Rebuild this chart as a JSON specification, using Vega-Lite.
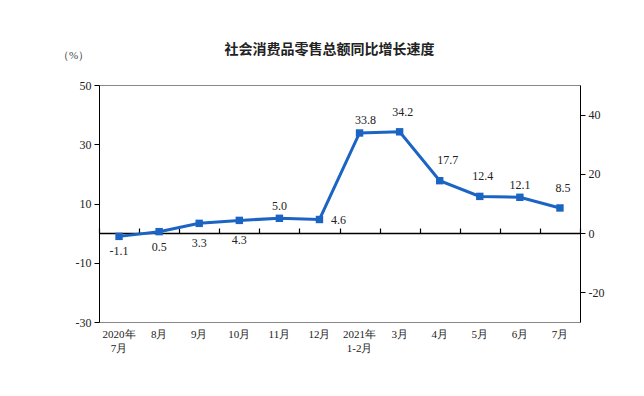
{
  "$schema": "https://vega.github.io/schema/vega-lite/v6.json",
  "width": 481,
  "height": 237,
  "autosize": "none",
  "padding": {"left": 99, "top": 85, "right": 64, "bottom": 74},
  "background": "white",
  "config": {
    "locale": {"number": {"decimal": ".", "thousands": ",", "grouping": [3], "currency": ["", ""], "minus": "-"}},
    "view": {"stroke": "#888888", "strokeWidth": 1},
    "font": "Liberation Serif",
    "text": {"font": "Liberation Serif", "fontSize": 12, "color": "#222222"}
  },
  "title": {
    "text": "社会消费品零售总额同比增长速度",
    "font": "Noto Sans CJK SC",
    "fontSize": 14,
    "fontWeight": "bold",
    "color": "#222222",
    "anchor": "middle",
    "dx": -10,
    "offset": -8
  },
  "data": {
    "values": [
      {"m": "2020年|7月", "v": -1.1},
      {"m": "8月", "v": 0.5},
      {"m": "9月", "v": 3.3},
      {"m": "10月", "v": 4.3},
      {"m": "11月", "v": 5.0},
      {"m": "12月", "v": 4.6},
      {"m": "2021年|1-2月", "v": 33.8},
      {"m": "3月", "v": 34.2},
      {"m": "4月", "v": 17.7},
      {"m": "5月", "v": 12.4},
      {"m": "6月", "v": 12.1},
      {"m": "7月", "v": 8.5}
    ]
  },
  "resolve": {"axis": {"x": "independent", "y": "independent"}},
  "layer": [
    {
      "mark": {"type": "line", "color": "#1b64c4", "strokeWidth": 3,
        "point": {"shape": "square", "size": 55, "filled": true, "color": "#1b64c4"}},
      "encoding": {
        "x": {"field": "m", "type": "nominal", "sort": null,
          "scale": {"paddingInner": 0, "paddingOuter": 0},
          "axis": {"title": null, "labelAngle": 0, "ticks": false, "domain": false,
            "labelExpr": "split(datum.label, '|')",
            "labelFont": "Liberation Serif", "labelFontSize": 11, "labelColor": "#222222",
            "labelPadding": 6, "labelLineHeight": 14, "labelBaseline": "top"}},
        "y": {"field": "v", "type": "quantitative",
          "scale": {"domain": [-30, 50], "nice": false, "zero": false},
          "axis": {"values": [-30, -10, 10, 30, 50], "grid": false,
            "labelOverlap": false, "labelBound": false, "labelFlush": false,
            "domainColor": "#000000", "tickColor": "#000000", "tickSize": 5,
            "labelFont": "Liberation Serif", "labelFontSize": 12, "labelColor": "#222222",
            "labelPadding": 3,
            "title": "（%）", "titleAngle": 0, "titleX": -26, "titleY": -30,
            "titleAlign": "center", "titleBaseline": "middle",
            "titleFont": "Liberation Serif", "titleFontSize": 11, "titleFontWeight": "normal",
            "titleColor": "#444444"}}
      }
    },
    {
      "mark": {"type": "rule", "opacity": 0},
      "encoding": {
        "x": {"field": "m", "type": "nominal", "sort": null,
          "axis": {"orient": "top", "offset": -148, "title": null, "labels": false,
            "tickBand": "extent", "tickSize": 5, "tickColor": "#000000",
            "domainColor": "#000000", "domainWidth": 1.5, "tickWidth": 1.2}},
        "y": {"field": "v", "type": "quantitative",
          "axis": {"values": [-20, 0, 20, 40], "grid": false, "title": null,
            "labelOverlap": false, "labelBound": false, "labelFlush": false,
            "domainColor": "#000000", "tickColor": "#000000", "tickSize": 5,
            "labelFont": "Liberation Serif", "labelFontSize": 12, "labelColor": "#222222",
            "labelPadding": 3}}
      }
    },
    {
      "transform": [{"filter": {"field": "v", "oneOf": [-1.1, 0.5]}}],
      "mark": {"type": "text", "dy": 15},
      "encoding": {"text": {"field": "v", "format": ".1f"},
        "x": {"field": "m", "type": "nominal", "sort": null, "axis": null},
        "y": {"field": "v", "type": "quantitative", "axis": null}}
    },
    {
      "transform": [{"filter": {"field": "v", "oneOf": [3.3, 4.3]}}],
      "mark": {"type": "text", "dy": 20},
      "encoding": {"text": {"field": "v", "format": ".1f"},
        "x": {"field": "m", "type": "nominal", "sort": null, "axis": null},
        "y": {"field": "v", "type": "quantitative", "axis": null}}
    },
    {
      "transform": [{"filter": {"field": "v", "oneOf": [5.0, 12.1]}}],
      "mark": {"type": "text", "dy": -12},
      "encoding": {"text": {"field": "v", "format": ".1f"},
        "x": {"field": "m", "type": "nominal", "sort": null, "axis": null},
        "y": {"field": "v", "type": "quantitative", "axis": null}}
    },
    {
      "transform": [{"filter": {"field": "v", "oneOf": [33.8]}}],
      "mark": {"type": "text", "dy": -13, "dx": 6},
      "encoding": {"text": {"field": "v", "format": ".1f"},
        "x": {"field": "m", "type": "nominal", "sort": null, "axis": null},
        "y": {"field": "v", "type": "quantitative", "axis": null}}
    },
    {
      "transform": [{"filter": {"field": "v", "oneOf": [34.2, 12.4, 8.5]}}],
      "mark": {"type": "text", "dy": -20, "dx": 3},
      "encoding": {"text": {"field": "v", "format": ".1f"},
        "x": {"field": "m", "type": "nominal", "sort": null, "axis": null},
        "y": {"field": "v", "type": "quantitative", "axis": null}}
    },
    {
      "transform": [{"filter": {"field": "v", "oneOf": [17.7]}}],
      "mark": {"type": "text", "dy": -21, "dx": 8},
      "encoding": {"text": {"field": "v", "format": ".1f"},
        "x": {"field": "m", "type": "nominal", "sort": null, "axis": null},
        "y": {"field": "v", "type": "quantitative", "axis": null}}
    },
    {
      "transform": [{"filter": {"field": "v", "oneOf": [4.6]}}],
      "mark": {"type": "text", "dx": 19, "dy": 1},
      "encoding": {"text": {"field": "v", "format": ".1f"},
        "x": {"field": "m", "type": "nominal", "sort": null, "axis": null},
        "y": {"field": "v", "type": "quantitative", "axis": null}}
    }
  ]
}
